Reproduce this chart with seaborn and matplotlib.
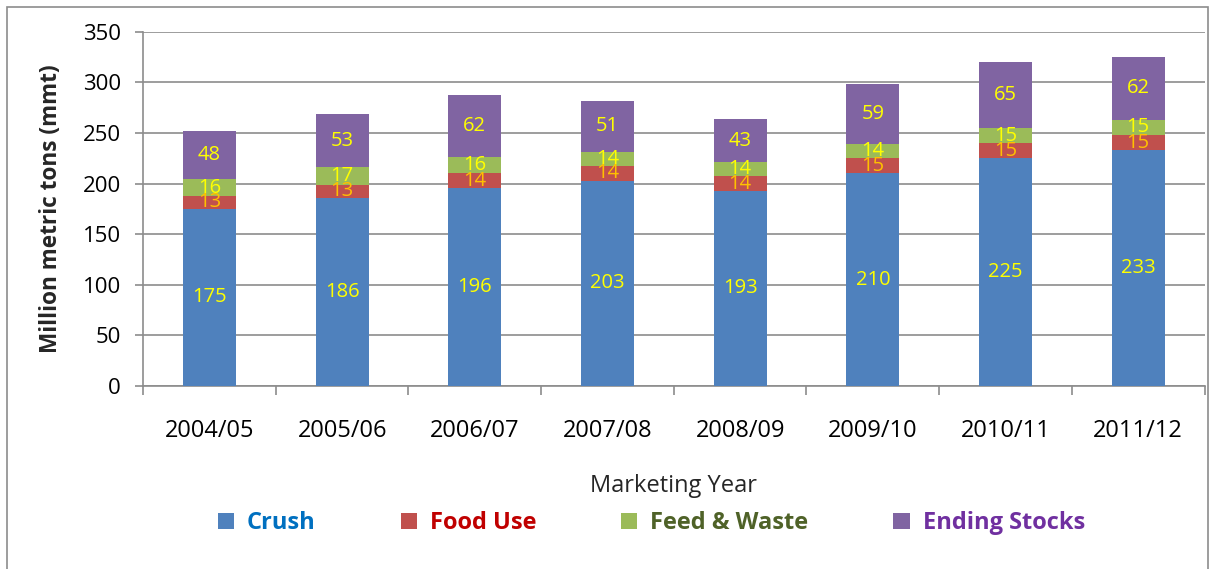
import matplotlib
matplotlib.use("Agg")
import matplotlib.pyplot as plt
import seaborn as sns
import pandas as pd
import numpy as np
from matplotlib.patches import Patch, Rectangle

years = ["2004/05", "2005/06", "2006/07", "2007/08", "2008/09", "2009/10", "2010/11", "2011/12"]
crush = [175, 186, 196, 203, 193, 210, 225, 233]
food_use = [13, 13, 14, 14, 14, 15, 15, 15]
feed_waste = [16, 17, 16, 14, 14, 14, 15, 15]
ending_stocks = [48, 53, 62, 51, 43, 59, 65, 62]

series_names = ["Crush", "Food Use", "Feed & Waste", "Ending Stocks"]
series_vals = [crush, food_use, feed_waste, ending_stocks]
bar_colors = ["#4F81BD", "#C0504D", "#9BBB59", "#8064A2"]
legend_text_colors = ["#0070C0", "#C00000", "#4F6228", "#7030A0"]
label_colors = ["#FFFF00", "#FFC000", "#FFFF00", "#FFFF00"]

sns.set_style("white")
plt.rcParams["font.family"] = ["Open Sans", "DejaVu Sans"]

fig = plt.figure(figsize=(12.13, 5.69), dpi=100)
ax = fig.add_axes([0.118, 0.322, 0.875, 0.622])

cum = np.zeros(len(years))
cums = []
for v in series_vals:
    cum = cum + np.array(v)
    cums.append(cum.copy())

# draw from top (total) down so lower segments overlay
for i in reversed(range(len(series_vals))):
    d = pd.DataFrame({"year": years, "val": cums[i]})
    sns.barplot(data=d, x="year", y="val", color=bar_colors[i], width=0.4,
                saturation=1, ax=ax, linewidth=0, zorder=3)

# labels
for i, v in enumerate(series_vals):
    bottoms = cums[i] - np.array(v)
    for j, val in enumerate(v):
        yc = bottoms[j] + val / 2
        ax.text(j, yc, str(val), ha="center", va="center", fontsize=14.5,
                color=label_colors[i], zorder=5)

ax.set_ylim(0, 350)
ax.set_xlim(-0.5, len(years) - 0.5)
ax.set_yticks(np.arange(0, 351, 50))
ax.yaxis.grid(True, color="#8C8C8C", linewidth=1.2, zorder=0)
ax.set_axisbelow(True)
for s in ["top", "right"]:
    ax.spines[s].set_visible(False)
for s in ["left", "bottom"]:
    ax.spines[s].set_color("#8C8C8C")
    ax.spines[s].set_linewidth(1.2)

ax.tick_params(axis="y", which="major", direction="out", length=6, color="#8C8C8C",
               width=1.2, labelsize=16, labelcolor="#000000", pad=10, left=True)
ax.set_xticks(np.arange(-0.5, len(years), 1.0), minor=True)
ax.tick_params(axis="x", which="minor", direction="out", length=6.5, color="#8C8C8C",
               width=1.2, bottom=True)
ax.tick_params(axis="x", which="major", length=0, labelsize=17, pad=24, labelcolor="#000000")

ax.set_xlabel("Marketing Year", fontsize=17, labelpad=22)
ax.set_ylabel("Million metric tons (mmt)", fontsize=16.3, fontweight="bold", labelpad=14)

handles = [Patch(facecolor=c, edgecolor="none") for c in bar_colors]
leg = fig.legend(handles, series_names, loc="center", bbox_to_anchor=(0.537, 0.081),
                 ncol=4, frameon=False, handlelength=0.68, handleheight=0.68,
                 handletextpad=0.55, columnspacing=3.6,
                 prop={"size": 17, "weight": "bold"})
for t, c in zip(leg.get_texts(), legend_text_colors):
    t.set_color(c)

fig.patches.append(Rectangle((0.006, -0.01), 0.99, 0.998, transform=fig.transFigure,
                             fill=False, edgecolor="#8C8C8C", linewidth=1.2))

fig.savefig("out.png", dpi=100)
